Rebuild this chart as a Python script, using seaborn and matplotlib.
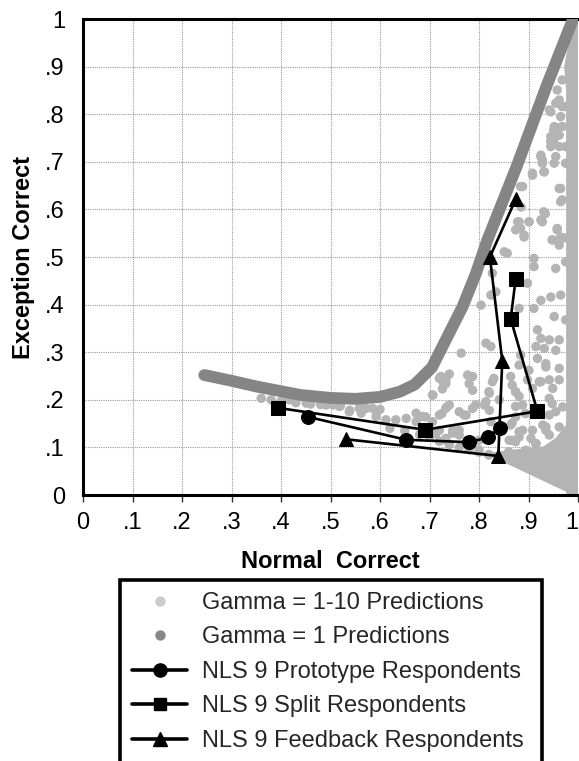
import matplotlib
matplotlib.use("Agg")
import matplotlib.pyplot as plt
from matplotlib.lines import Line2D
import seaborn as sns

sns.set_theme(style="white")
plt.rcParams['font.family'] = ['Liberation Sans', 'DejaVu Sans']

# ---------------- data ----------------
tick_vals = [0, .1, .2, .3, .4, .5, .6, .7, .8, .9, 1]
tick_labels = ['0', '.1', '.2', '.3', '.4', '.5', '.6', '.7', '.8', '.9', '1']

proto_x = [0.455, 0.653, 0.780, 0.819, 0.842]
proto_y = [0.164, 0.116, 0.111, 0.121, 0.141]

split_x = [0.394, 0.691, 0.918, 0.864, 0.874]
split_y = [0.183, 0.137, 0.176, 0.370, 0.453]

feed_x = [0.532, 0.839, 0.847, 0.822, 0.874]
feed_y = [0.117, 0.082, 0.282, 0.500, 0.621]

# Gamma = 1 predictions (dense curve of points, read along its centre)
g1_x = [0.245, 0.30, 0.35, 0.40, 0.44, 0.50, 0.55, 0.60, 0.64, 0.67, 0.705,
        0.733, 0.767, 0.794, 0.817, 0.876, 0.936, 0.99]
g1_y = [0.252, 0.240, 0.228, 0.218, 0.210, 0.204, 0.202, 0.206, 0.217, 0.232,
        0.268, 0.326, 0.396, 0.466, 0.536, 0.690, 0.858, 1.0]

# Gamma = 1-10 predictions (scattered points)
g10_x = [0.857, 0.911, 0.911, 0.955, 0.975, 0.827, 0.834, 0.824, 0.804, 0.881,
         0.898, 0.911, 0.925, 0.945, 0.965, 0.952, 0.975, 0.918, 0.925, 0.942,
         0.962, 0.915, 0.932, 0.955, 0.814, 0.824, 0.764, 0.881, 0.884, 0.918,
         0.935, 0.962, 0.787, 0.777, 0.740, 0.723, 0.733, 0.830, 0.864, 0.898,
         0.908, 0.925, 0.942, 0.962, 0.821, 0.841, 0.874, 0.881, 0.811, 0.706,
         0.735, 0.725, 0.692, 0.770, 0.824, 0.874, 0.894, 0.942, 0.948, 0.969,
         0.935, 0.962, 0.908, 0.881, 0.861, 0.747, 0.720, 0.760, 0.800, 0.894,
         0.915, 0.942, 0.962,
         0.968, 0.962, 0.975, 0.942, 0.968, 0.951, 0.951, 0.945, 0.975, 0.955,
         0.925, 0.928, 0.908, 0.932, 0.975, 0.884, 0.962, 0.968, 0.885, 0.934,
         0.928, 0.881, 0.901, 0.874, 0.891, 0.958, 0.948, 0.972,
         0.417, 0.451, 0.491, 0.518, 0.538, 0.558, 0.585, 0.592, 0.612, 0.632,
         0.653, 0.673, 0.673, 0.706, 0.720, 0.733, 0.747, 0.713, 0.733, 0.760,
         0.733, 0.726, 0.780, 0.787, 0.814, 0.793, 0.787, 0.821, 0.874, 0.867,
         0.888, 0.935, 0.915, 0.867, 0.935, 0.922, 0.901, 0.867,
         0.539, 0.562, 0.505, 0.572, 0.686, 0.707, 0.720,
         0.360, 0.380, 0.400, 0.430, 0.460, 0.480, 0.520, 0.560, 0.600,
         0.620, 0.650, 0.680, 0.700, 0.720, 0.740, 0.760, 0.780, 0.800, 0.820,
         0.727, 0.740, 0.760, 0.774, 0.747, 0.733, 0.820, 0.827, 0.874, 0.888,
         0.864, 0.881, 0.874, 0.905, 0.929, 0.942, 0.955, 0.942, 0.922, 0.949,
         0.901, 0.800, 0.860, 0.820,
         0.945, 0.962, 0.925, 0.928, 0.952, 0.908, 0.931, 0.888, 0.965, 0.965,
         0.931, 0.925, 0.901, 0.878, 0.884, 0.891, 0.958, 0.948, 0.965, 0.962,
         0.851, 0.958, 0.968, 0.955, 0.945, 0.965, 0.952, 0.968, 0.945, 0.962]
g10_y = [0.508, 0.497, 0.480, 0.476, 0.490, 0.466, 0.427, 0.420, 0.399, 0.392,
         0.445, 0.392, 0.409, 0.416, 0.420, 0.375, 0.368, 0.347, 0.329, 0.326,
         0.326, 0.312, 0.308, 0.304, 0.319, 0.312, 0.298, 0.273, 0.294, 0.287,
         0.269, 0.266, 0.249, 0.252, 0.254, 0.249, 0.242, 0.245, 0.249, 0.242,
         0.224, 0.238, 0.242, 0.242, 0.214, 0.200, 0.217, 0.207, 0.189, 0.210,
         0.185, 0.171, 0.164, 0.168, 0.154, 0.164, 0.171, 0.168, 0.192, 0.185,
         0.143, 0.143, 0.136, 0.122, 0.115, 0.130, 0.136, 0.136, 0.115, 0.094,
         0.108, 0.094, 0.101,
         0.872, 0.830, 0.816, 0.809, 0.774, 0.767, 0.746, 0.732, 0.732, 0.711,
         0.711, 0.697, 0.672, 0.679, 0.697, 0.648, 0.644, 0.620, 0.605, 0.591,
         0.574, 0.574, 0.574, 0.557, 0.546, 0.557, 0.536, 0.540,
         0.200, 0.193, 0.189, 0.186, 0.175, 0.182, 0.182, 0.165, 0.158, 0.158,
         0.161, 0.172, 0.154, 0.154, 0.168, 0.182, 0.136, 0.129, 0.115, 0.126,
         0.234, 0.223, 0.234, 0.220, 0.196, 0.189, 0.182, 0.178, 0.186, 0.151,
         0.136, 0.136, 0.108, 0.115, 0.276, 0.238, 0.262, 0.231,
         0.178, 0.172, 0.189, 0.182, 0.165, 0.210, 0.245,
         0.203, 0.200, 0.197, 0.194, 0.191, 0.190, 0.187, 0.184, 0.180,
         0.140, 0.135, 0.127, 0.121, 0.113, 0.106, 0.100, 0.095, 0.090, 0.085,
         0.238, 0.189, 0.175, 0.168, 0.133, 0.119, 0.217, 0.238, 0.217, 0.189,
         0.147, 0.133, 0.112, 0.119, 0.147, 0.126, 0.175, 0.203, 0.238, 0.224,
         0.070, 0.095, 0.091, 0.084,
         0.742, 0.732, 0.714, 0.704, 0.697, 0.676, 0.679, 0.648, 0.644, 0.616,
         0.595, 0.578, 0.574, 0.574, 0.560, 0.542, 0.560, 0.536, 0.542, 0.525,
         0.511, 0.851, 0.816, 0.823, 0.805, 0.795, 0.774, 0.774, 0.753, 0.756]

# dense areas of the Gamma = 1-10 cloud (outline vertices)
strip_x = [0.976, 1.0, 1.0, 0.99, 0.972, 0.976]
strip_y = [0.0, 0.0, 1.0, 1.0, 0.90, 0.85]
wedge_x = [0.80, 0.835, 0.99, 1.0, 1.0, 0.978, 0.955, 0.93, 0.89, 0.86, 0.83]
wedge_y = [0.088, 0.076, 0.0, 0.0, 0.16, 0.15, 0.12, 0.102, 0.098, 0.094, 0.09]

# ---------------- figure ----------------
W, H = 579, 761
FS = 17
fig = plt.figure(figsize=(W / 100, H / 100), dpi=100)
ax = fig.add_axes([83 / W, (H - 495) / H, 495 / W, 476 / H])

light = '#b4b4b4'
dark = '#858585'

ax.fill(strip_x, strip_y, color=light, lw=0, zorder=2)
ax.fill(wedge_x, wedge_y, color=light, lw=0, zorder=2)
sns.scatterplot(x=g10_x, y=g10_y, s=46, color=light, edgecolor='none',
                linewidth=0, ax=ax, zorder=3, legend=False)

sns.lineplot(x=g1_x, y=g1_y, sort=False, color=dark, linewidth=8.5,
             ax=ax, zorder=4, legend=False, estimator=None,
             solid_capstyle='round', solid_joinstyle='round')

for xs, ys, m, ms in [(proto_x, proto_y, 'o', 10), (split_x, split_y, 's', 9.5),
                      (feed_x, feed_y, '^', 10)]:
    sns.lineplot(x=xs, y=ys, sort=False, estimator=None, color='black',
                 linewidth=1.9, marker=m, markersize=ms, markeredgecolor='black',
                 markerfacecolor='black', ax=ax, zorder=6, legend=False)

ax.set_xlim(0, 1)
ax.set_ylim(0, 1)
ax.set_xticks(tick_vals)
ax.set_xticklabels(tick_labels)
ax.set_yticks(tick_vals)
ax.set_yticklabels(tick_labels)
ax.xaxis.grid(True, color='#9a9a9a', linestyle=(0, (1, 1)), linewidth=0.8)
ax.yaxis.grid(True, color='#9a9a9a', linestyle=(0, (1, 1)), linewidth=0.8)
ax.set_axisbelow(True)

ax.tick_params(axis='x', which='both', bottom=True, length=5, width=1,
               color='#333333', labelsize=FS, pad=7, labelcolor='black')
ax.tick_params(axis='y', which='both', left=False, length=0,
               labelsize=FS, pad=13, labelcolor='black')
ax.get_xticklabels()[-1].set_horizontalalignment('right')

for s in ['left', 'bottom', 'top']:
    ax.spines[s].set_visible(True)
    ax.spines[s].set_color('black')
    ax.spines[s].set_linewidth(2.2)
ax.spines['right'].set_visible(False)

ax.set_xlabel('Normal  Correct', fontsize=FS, fontweight='bold',
              labelpad=12, color='black')
ax.set_ylabel('Exception Correct', fontsize=FS, fontweight='bold',
              labelpad=7, color='black')

handles = [
    Line2D([], [], linestyle='none', marker='o', markersize=7.5,
           markerfacecolor='#cccccc', markeredgecolor='none'),
    Line2D([], [], linestyle='none', marker='o', markersize=7.5,
           markerfacecolor='#888888', markeredgecolor='none'),
    Line2D([], [], color='black', linewidth=2.6, marker='o', markersize=9.5),
    Line2D([], [], color='black', linewidth=2.6, marker='s', markersize=9),
    Line2D([], [], color='black', linewidth=2.6, marker='^', markersize=9.5),
]
labels = ['Gamma = 1-10 Predictions', 'Gamma = 1 Predictions',
          'NLS 9 Prototype Respondents', 'NLS 9 Split Respondents',
          'NLS 9 Feedback Respondents']
top = (H - 580) / H
leg = fig.legend(handles, labels, loc='upper left',
                 bbox_to_anchor=(120 / W, top - 0.3, 422 / W, 0.3),
                 mode='expand', fontsize=FS, frameon=True, fancybox=False,
                 framealpha=1, edgecolor='black', handlelength=2.35,
                 handletextpad=0.62, borderpad=0.5, labelspacing=0.53,
                 borderaxespad=0)
leg.get_frame().set_linewidth(2.6)

fig.savefig('out.png', dpi=100)
